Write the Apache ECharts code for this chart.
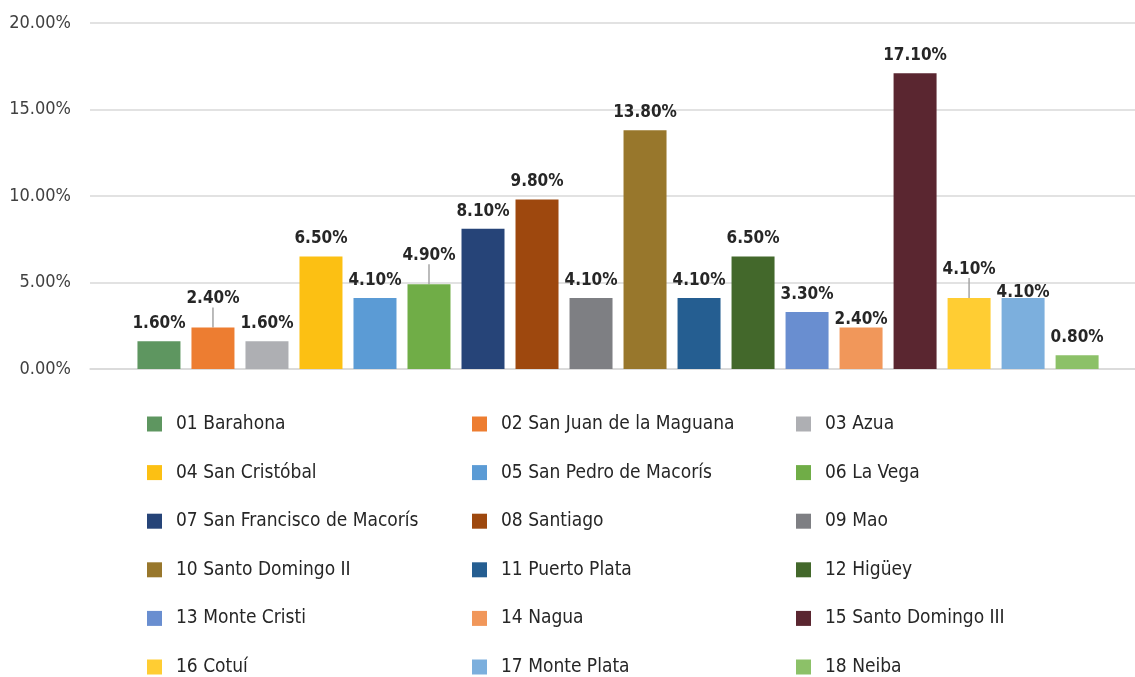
<!DOCTYPE html>
<html>
<head>
<meta charset="utf-8">
<script src="https://cdn.jsdelivr.net/npm/echarts@6/dist/echarts.min.js"></script>
<style>
  html, body { margin: 0; padding: 0; background: #fff; }
  #chart { width: 1135px; height: 677px; }
</style>
</head>
<body>
<div id="chart"></div>
<script>
// regions and their share (percent)
var regions = [
  '01 Barahona', '02 San Juan de la Maguana', '03 Azua',
  '04 San Cristóbal', '05 San Pedro de Macorís', '06 La Vega',
  '07 San Francisco de Macorís', '08 Santiago', '09 Mao',
  '10 Santo Domingo II', '11 Puerto Plata', '12 Higüey',
  '13 Monte Cristi', '14 Nagua', '15 Santo Domingo III',
  '16 Cotuí', '17 Monte Plata', '18 Neiba'
]
var shares = [1.6, 2.4, 1.6, 6.5, 4.1, 4.9, 8.1, 9.8, 4.1, 13.8, 4.1, 6.5, 3.3, 2.4, 17.1, 4.1, 4.1, 0.8]
var colors = [
  '#5E9660', '#ED7D31', '#AEAFB3', '#FCC013', '#5B9BD5', '#70AD47',
  '#264478', '#9E480E', '#7E7F83', '#98772C', '#255E91', '#43682B',
  '#698ED0', '#F1975A', '#5A2630', '#FFCD33', '#7CAFDD', '#8CC168'
]
// labels that Excel pushed off their default spot
var labelShift = { 1: -11, 5: -11, 13: 10, 15: -11, 16: 12 }
var leaderLines = { 1: true, 5: true, 15: true }

var font = '"Liberation Sans Narrow", "DejaVu Sans Condensed", "Noto Sans", sans-serif'

var series = regions.map(function (name, i) {
  var s = {
    name: name,
    type: 'bar',
    data: [shares[i]],
    barWidth: 43,
    barGap: '25.6%',
    itemStyle: { color: colors[i] },
    label: {
      show: true,
      position: 'top',
      distance: 9,
      fontFamily: font,
      fontWeight: 'bold',
      fontSize: 17,
      color: '#262626',
      formatter: function (p) { return p.value.toFixed(2) + '%' }
    }
  }
  if (labelShift[i] !== undefined) {
    s.labelLayout = { dy: labelShift[i] }
  }
  if (leaderLines[i]) {
    s.labelLine = { show: true, lineStyle: { color: '#A5A5A5', width: 1.5 } }
  }
  return s
})
// empty spacer in front so the group sits a little right of centre, as in Excel
series.unshift({ name: 'spacer', type: 'bar', data: [null], barWidth: 8.8, silent: true })

function legendColumn (col, left) {
  return {
    orient: 'vertical',
    left: left,
    top: 414,
    height: 263,
    padding: 0,
    itemWidth: 15,
    itemHeight: 15,
    itemGap: 28.6,
    icon: 'rect',
    selectedMode: false,
    data: regions.filter(function (r, i) { return i % 3 === col }),
    textStyle: {
      fontFamily: font,
      fontSize: 19,
      lineHeight: 20,
      color: '#262626',
      padding: [0, 0, 0, 9]
    }
  }
}

var chart = echarts.init(document.getElementById('chart'))
chart.setOption({
  animation: false,
  grid: { left: 90, right: 0, top: 23, bottom: 308 },
  legend: [legendColumn(0, 147), legendColumn(1, 472), legendColumn(2, 796)],
  xAxis: {
    type: 'category',
    data: [''],
    axisLabel: { show: false },
    axisTick: { show: false },
    axisLine: { lineStyle: { color: '#D9D9D9', width: 1.5 } }
  },
  yAxis: {
    type: 'value',
    min: 0,
    max: 20,
    interval: 5,
    axisLine: { show: false },
    axisTick: { show: false },
    axisLabel: {
      margin: 19,
      fontFamily: font,
      fontSize: 18,
      color: '#404040',
      formatter: function (v) { return v.toFixed(2) + '%' }
    },
    splitLine: { lineStyle: { color: '#D9D9D9', width: 1.5 } }
  },
  series: series
})
</script>
</body>
</html>
